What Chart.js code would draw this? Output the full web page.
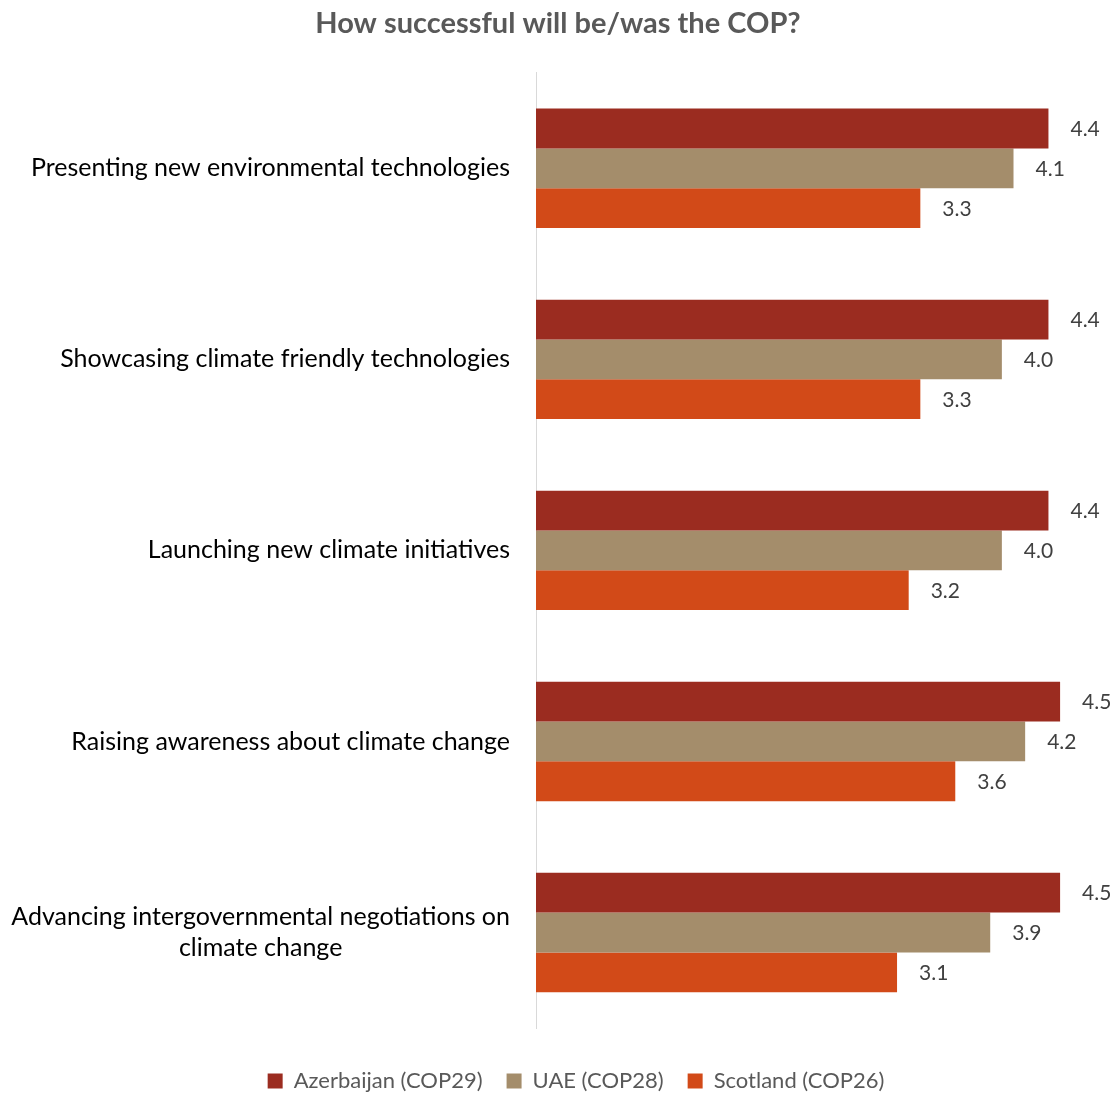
<!DOCTYPE html>
<html>
<head>
<meta charset="utf-8">
<script src="https://cdn.jsdelivr.net/npm/chart.js@4.4.1/dist/chart.umd.min.js"></script>
<style>
  html, body { margin: 0; padding: 0; background: #fff; }
  #wrap { width: 1116px; height: 1094px; }
</style>
</head>
<body>
<div id="wrap"><canvas id="grafico"></canvas></div>
<script>
const categorias = [
    'Presenting new environmental technologies',
    'Showcasing climate friendly technologies',
    'Launching new climate initiatives',
    'Raising awareness about climate change',
    ['Advancing intergovernmental negotiations on', 'climate change']
];
const azerbaijan = [4.4, 4.4, 4.4, 4.5, 4.5];
const uae = [4.1, 4.0, 4.0, 4.2, 3.9];
const escocia = [3.3, 3.3, 3.2, 3.6, 3.1];
const nombresSeries = ['Azerbaijan (COP29)', 'UAE (COP28)', 'Scotland (COP26)'];
const colores = ['#9B2C20', '#A48D6B', '#D24A18'];

const fuente = 'Lato, "Open Sans", sans-serif';

// etiquetas de valor a la derecha de cada barra
const etiquetasValor = {
    id: 'etiquetasValor',
    afterDatasetsDraw(chart) {
        const ctx = chart.ctx;
        ctx.save();
        ctx.font = '21px ' + fuente;
        ctx.fillStyle = '#404040';
        ctx.textAlign = 'left';
        ctx.textBaseline = 'middle';
        chart.data.datasets.forEach((ds, i) => {
            chart.getDatasetMeta(i).data.forEach((barra, j) => {
                ctx.fillText(ds.data[j].toFixed(1), barra.x + 22, barra.y + 1);
            });
        });
        ctx.restore();
    }
};

// categorías alineadas a la derecha, líneas múltiples centradas entre sí
const etiquetasCategoria = {
    id: 'etiquetasCategoria',
    afterDraw(chart) {
        const ctx = chart.ctx;
        const ejeY = chart.scales.y;
        ctx.save();
        ctx.font = '25px ' + fuente;
        ctx.fillStyle = '#000';
        ctx.textAlign = 'center';
        ctx.textBaseline = 'middle';
        const derecha = ejeY.right - 26;
        const alto = 31;
        categorias.forEach((cat, i) => {
            const lineas = Array.isArray(cat) ? cat : [cat];
            const ancho = Math.max(...lineas.map(l => ctx.measureText(l).width));
            const centroX = derecha - ancho / 2;
            const y0 = ejeY.getPixelForValue(i) - (lineas.length - 1) * alto / 2;
            lineas.forEach((l, k) => ctx.fillText(l, centroX, y0 + k * alto));
        });
        ctx.restore();
    }
};

// la leyenda va un poco a la derecha del centro
const moverLeyenda = {
    id: 'moverLeyenda',
    afterLayout(chart) {
        chart.legend.left += 18;
        chart.legend.right += 18;
    }
};

new Chart(document.getElementById('grafico'), {
    type: 'bar',
    data: {
        labels: categorias,
        datasets: [
            { label: nombresSeries[0], data: azerbaijan, backgroundColor: colores[0] },
            { label: nombresSeries[1], data: uae, backgroundColor: colores[1] },
            { label: nombresSeries[2], data: escocia, backgroundColor: colores[2] }
        ]
    },
    options: {
        indexAxis: 'y',
        responsive: true,
        maintainAspectRatio: false,
        animation: false,
        datasets: { bar: { categoryPercentage: 0.625, barPercentage: 1 } },
        layout: { padding: { top: 0, right: 0, bottom: -8, left: 0 } },
        scales: {
            x: {
                min: 0,
                max: 4.98,
                grid: { display: false, drawTicks: false },
                border: { display: false },
                ticks: { display: false },
                // espacio vacío entre las barras y la leyenda
                afterFit(escala) { escala.height = 18; }
            },
            y: {
                grid: { display: false, drawTicks: false },
                border: { color: '#D9D9D9', width: 1 },
                ticks: { display: false },
                afterFit(escala) { escala.width = 536; }
            }
        },
        plugins: {
            title: {
                display: true,
                text: 'How successful will be/was the COP?',
                color: '#595959',
                font: { family: fuente, size: 29, weight: 'bold' },
                padding: { top: 6, bottom: 32 }
            },
            legend: {
                position: 'bottom',
                labels: {
                    color: '#595959',
                    font: { family: fuente, size: 22 },
                    boxWidth: 15,
                    boxHeight: 15,
                    padding: 24
                }
            },
            tooltip: { enabled: false }
        }
    },
    plugins: [etiquetasValor, etiquetasCategoria, moverLeyenda]
});
</script>
</body>
</html>
